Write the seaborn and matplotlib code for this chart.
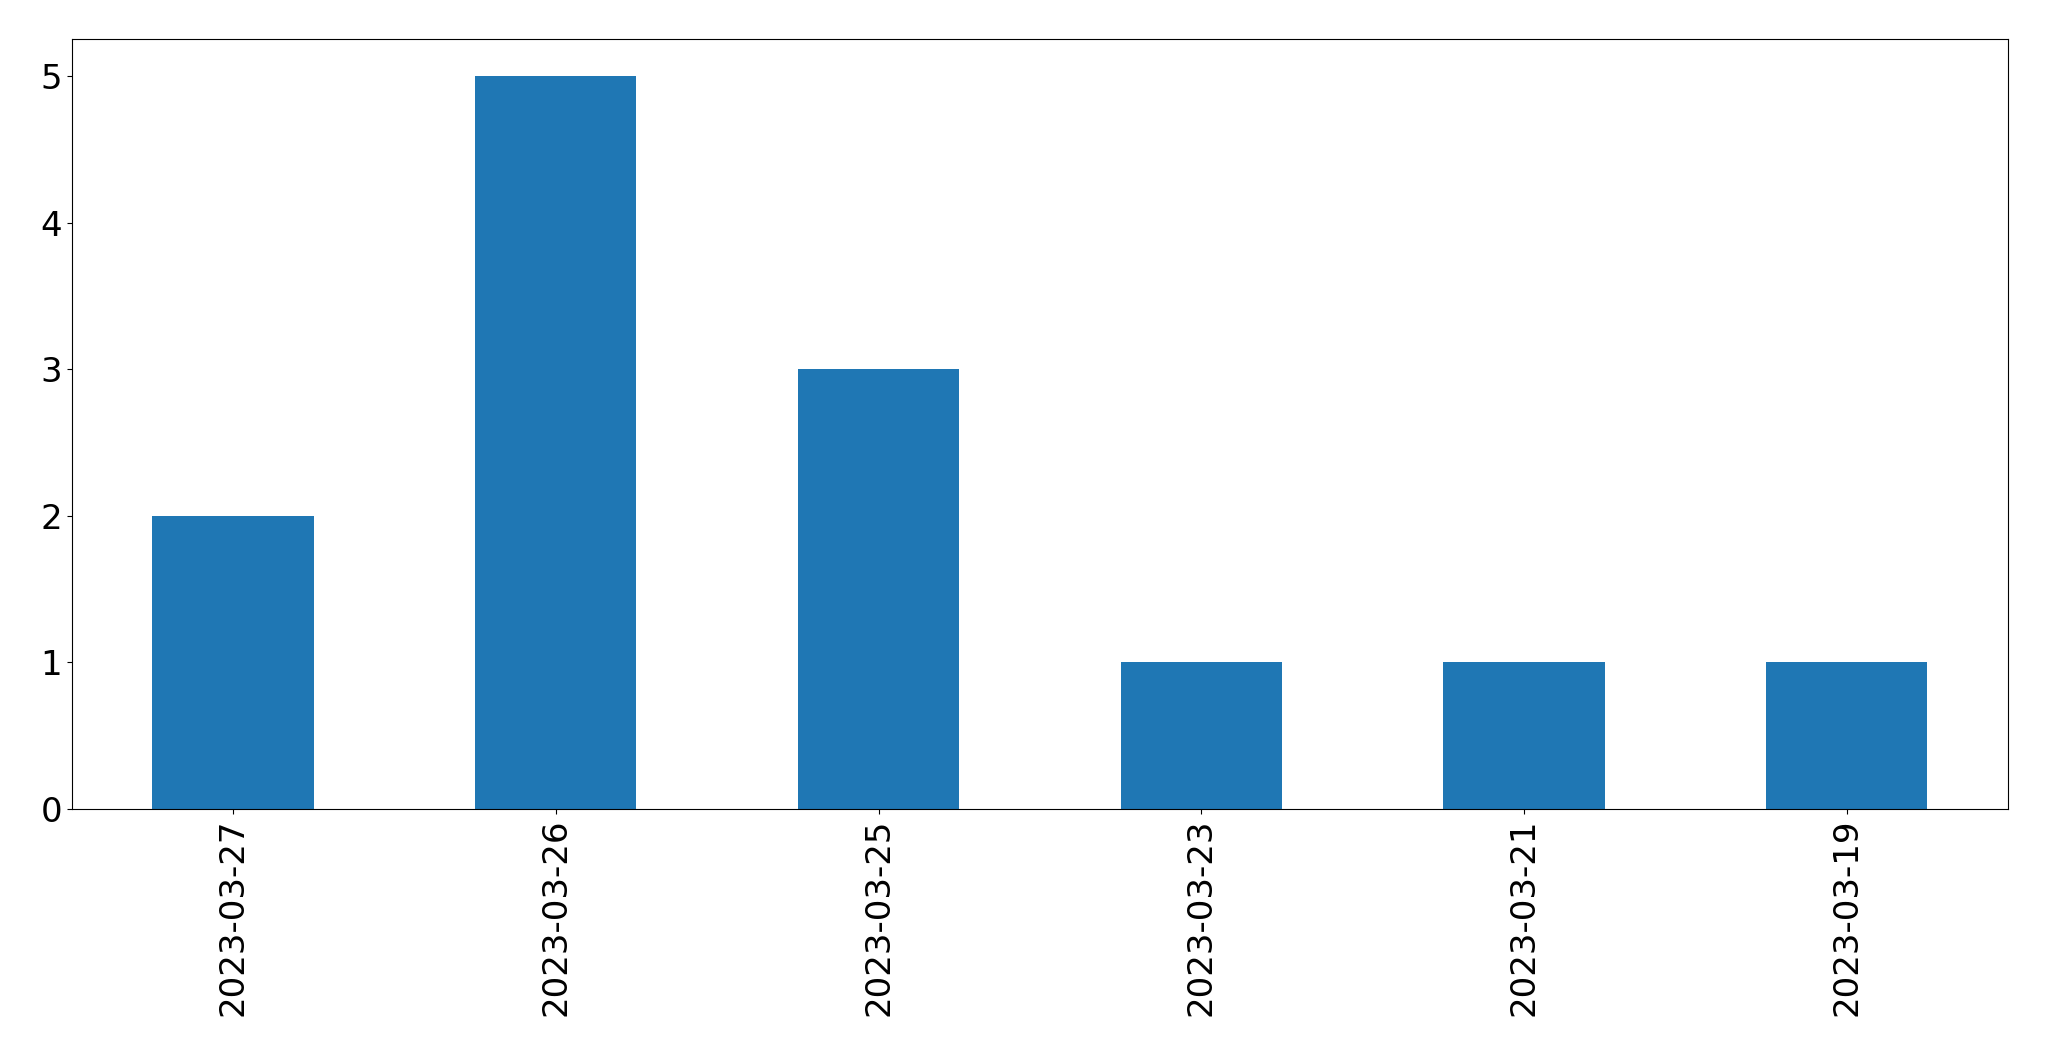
import pandas as pd
import matplotlib
matplotlib.use('Agg')
import matplotlib.pyplot as plt
import seaborn as sns

# Data
dates = ['2023-03-27', '2023-03-26', '2023-03-25', '2023-03-23', '2023-03-21', '2023-03-19']
counts = [2, 5, 3, 1, 1, 1]

df = pd.DataFrame({'date': dates, 'count': counts})

plt.rcParams['font.family'] = ['DejaVu Sans']

fig, ax = plt.subplots(figsize=(20.49, 10.61), dpi=100)
fig.subplots_adjust(left=0.035, right=0.98, top=0.963, bottom=0.2375)

sns.barplot(data=df, x='date', y='count', color='#1f77b4', saturation=1,
            width=0.5, ax=ax)

ax.set_xlim(-0.5, 5.5)
ax.set_ylim(0, 5.25)
ax.set_xlabel('')
ax.set_ylabel('')
ax.tick_params(axis='both', labelsize=24.5, colors='black')
plt.xticks(rotation=90)

fig.savefig('out.png', dpi=100)
